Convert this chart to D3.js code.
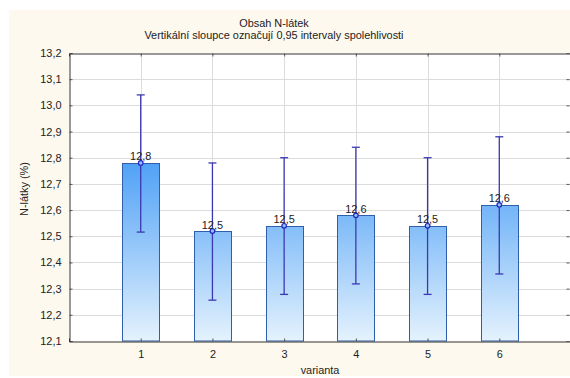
<!doctype html>
<html>
<head>
	<meta charset="utf-8">
	<title>Obsah N-látek</title>
	<script src="https://cdnjs.cloudflare.com/ajax/libs/d3/7.8.5/d3.min.js"></script>
	<style>
		body { margin: 0; background: #fff; }
		text { font-family: "Liberation Sans", Arial, sans-serif; fill: #222; }
	</style>
</head>
<body>
	<script>
		// data
		var categories = ['1', '2', '3', '4', '5', '6'];
		var means = [12.78, 12.52, 12.54, 12.58, 12.54, 12.62];
		var ciLow = [12.516, 12.256, 12.278, 12.318, 12.278, 12.356];
		var ciHigh = [13.04, 12.78, 12.80, 12.84, 12.80, 12.88];
		var yTicks = [12.1, 12.2, 12.3, 12.4, 12.5, 12.6, 12.7, 12.8, 12.9, 13.0, 13.1, 13.2];

		var W = 570, H = 378;
		var plotL = 69, plotR = 571, plotT = 53, plotB = 341;
		var fs = '10.9px';
		var comma = function (v, d) { return v.toFixed(d).replace('.', ','); };

		var svg = d3.select('body').append('svg')
			.attr('width', W)
			.attr('height', H);

		// cream panel
		svg.append('rect')
			.attr('x', 9).attr('y', 10)
			.attr('width', W - 9).attr('height', 366)
			.attr('fill', '#fdf9ee');

		var x = d3.scaleLinear().domain([0, 7]).range([plotL, plotR]);
		var y = d3.scaleLinear().domain([12.1, 13.2]).range([plotB, plotT]);

		var defs = svg.append('defs');
		var grad = defs.append('linearGradient')
			.attr('id', 'barGrad')
			.attr('gradientUnits', 'userSpaceOnUse')
			.attr('x1', 0).attr('x2', 0)
			.attr('y1', y(12.8)).attr('y2', plotB);
		grad.append('stop').attr('offset', 0).attr('stop-color', '#4c9ff6');
		grad.append('stop').attr('offset', 1).attr('stop-color', '#e4f2fd');

		// plot background
		svg.append('rect')
			.attr('x', plotL).attr('y', plotT)
			.attr('width', plotR - plotL).attr('height', plotB - plotT)
			.attr('fill', '#fff');

		// grid
		svg.append('g')
			.selectAll('line')
			.data(yTicks.slice(1, -1))
			.join('line')
			.attr('x1', plotL).attr('x2', plotR)
			.attr('y1', function (d) { return Math.round(y(d)) + 0.5; })
			.attr('y2', function (d) { return Math.round(y(d)) + 0.5; })
			.attr('stroke', '#dcdcdc');

		svg.append('g')
			.selectAll('line')
			.data(categories)
			.join('line')
			.attr('x1', function (d, i) { return Math.round(x(i + 1)) + 0.5; })
			.attr('x2', function (d, i) { return Math.round(x(i + 1)) + 0.5; })
			.attr('y1', plotT).attr('y2', plotB)
			.attr('stroke', '#dcdcdc');

		// bars
		var bw = 37;
		svg.append('g')
			.selectAll('rect')
			.data(means)
			.join('rect')
			.attr('x', function (d, i) { return Math.round(x(i + 1) - bw / 2) + 0.5; })
			.attr('y', function (d) { return Math.round(y(d)) + 0.5; })
			.attr('width', bw)
			.attr('height', function (d) { return plotB - Math.round(y(d)) - 0.5; })
			.attr('fill', 'url(#barGrad)')
			.attr('stroke', '#2f5fab')
			.attr('stroke-width', 1);

		// axes
		var yAxis = d3.axisLeft(y)
			.tickValues(yTicks)
			.tickSize(-3)
			.tickPadding(8)
			.tickFormat(function (d) { return comma(d, 1); });
		var gy = svg.append('g')
			.attr('transform', 'translate(' + (plotL + 0.5) + ',0)')
			.call(yAxis);

		var xAxis = d3.axisBottom(x)
			.tickValues([1, 2, 3, 4, 5, 6])
			.tickSize(-3)
			.tickPadding(9)
			.tickFormat(function (d) { return categories[d - 1]; });
		var gx = svg.append('g')
			.attr('transform', 'translate(0,' + (plotB + 0.5) + ')')
			.call(xAxis);

		var gt = svg.append('g')
			.attr('transform', 'translate(0,' + (plotT + 0.5) + ')')
			.call(d3.axisTop(x).tickValues([1, 2, 3, 4, 5, 6]).tickSize(-3).tickFormat(''));

		var gr = svg.append('g')
			.attr('transform', 'translate(' + (plotR - 1.5) + ',0)')
			.call(d3.axisRight(y).tickValues(yTicks).tickSize(-3).tickFormat(''));

		[gy, gx, gt, gr].forEach(function (g) {
			g.select('.domain').attr('stroke', '#333');
			g.selectAll('.tick line').attr('stroke', '#555');
			g.selectAll('text')
				.style('font-family', '"Liberation Sans", Arial, sans-serif')
				.style('font-size', fs)
				.attr('fill', '#222');
		});
		gr.select('.domain').remove();

		// error bars
		var eb = svg.append('g')
			.attr('stroke', '#3b38b2')
			.attr('stroke-width', 1.3);
		eb.selectAll('line.v')
			.data(means)
			.join('line')
			.attr('class', 'v')
			.attr('x1', function (d, i) { return x(i + 1); })
			.attr('x2', function (d, i) { return x(i + 1); })
			.attr('y1', function (d, i) { return y(ciLow[i]); })
			.attr('y2', function (d, i) { return y(ciHigh[i]); });
		eb.selectAll('line.hi')
			.data(ciHigh)
			.join('line')
			.attr('class', 'hi')
			.attr('x1', function (d, i) { return x(i + 1) - 4; })
			.attr('x2', function (d, i) { return x(i + 1) + 4; })
			.attr('y1', function (d) { return y(d); })
			.attr('y2', function (d) { return y(d); });
		eb.selectAll('line.lo')
			.data(ciLow)
			.join('line')
			.attr('class', 'lo')
			.attr('x1', function (d, i) { return x(i + 1) - 4; })
			.attr('x2', function (d, i) { return x(i + 1) + 4; })
			.attr('y1', function (d) { return y(d); })
			.attr('y2', function (d) { return y(d); });

		// mean markers
		svg.append('g')
			.selectAll('circle')
			.data(means)
			.join('circle')
			.attr('cx', function (d, i) { return x(i + 1); })
			.attr('cy', function (d) { return y(d); })
			.attr('r', 2.3)
			.attr('fill', '#8fc3ff')
			.attr('stroke', '#2424c0')
			.attr('stroke-width', 1.2);

		// value labels
		svg.append('g')
			.selectAll('text')
			.data(means)
			.join('text')
			.attr('x', function (d, i) { return x(i + 1); })
			.attr('y', function (d) { return y(d) - 2.5; })
			.attr('text-anchor', 'middle')
			.style('font-size', fs)
			.text(function (d) { return comma(d, 1); });

		// titles
		svg.append('text')
			.attr('x', 274).attr('y', 27)
			.attr('text-anchor', 'middle')
			.style('font-size', fs)
			.text('Obsah N-látek');
		svg.append('text')
			.attr('x', 274).attr('y', 38.5)
			.attr('text-anchor', 'middle')
			.style('font-size', fs)
			.text('Vertikální sloupce označují 0,95 intervaly spolehlivosti');

		svg.append('text')
			.attr('transform', 'translate(28,189) rotate(-90)')
			.attr('text-anchor', 'middle')
			.style('font-size', fs)
			.text('N-látky (%)');

		svg.append('text')
			.attr('x', (plotL + plotR) / 2).attr('y', 374)
			.attr('text-anchor', 'middle')
			.style('font-size', fs)
			.text('varianta');
	</script>
</body>
</html>
